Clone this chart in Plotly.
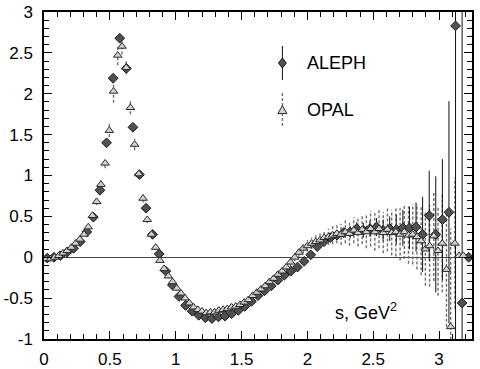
import plotly.graph_objects as go

# ---------------- data ----------------
aleph_s = [0.025, 0.075, 0.125, 0.175, 0.225, 0.275, 0.325, 0.375, 0.425, 0.475,
           0.525, 0.575, 0.625, 0.675, 0.725, 0.775, 0.825, 0.875, 0.925, 0.975,
           1.025, 1.075, 1.125, 1.175, 1.225, 1.275, 1.325, 1.375, 1.425, 1.475,
           1.525, 1.575, 1.625, 1.675, 1.725, 1.775, 1.825, 1.875, 1.925, 1.975,
           2.025, 2.075, 2.125, 2.175, 2.225, 2.275, 2.325, 2.375, 2.425, 2.475,
           2.525, 2.575, 2.625, 2.675, 2.725, 2.775, 2.825, 2.875, 2.925, 2.975,
           3.025, 3.075, 3.125, 3.175, 3.225, 3.275]
aleph_v = [-0.01, 0.00, 0.02, 0.06, 0.11, 0.19, 0.31, 0.49, 0.82, 1.40,
           2.19, 2.68, 2.31, 1.59, 1.01, 0.60, 0.28, 0.04, -0.17, -0.34,
           -0.48, -0.59, -0.66, -0.71, -0.74, -0.75, -0.73, -0.72, -0.69, -0.65,
           -0.60, -0.54, -0.47, -0.41, -0.35, -0.28, -0.22, -0.17, -0.12, -0.05,
           0.03, 0.13, 0.19, 0.24, 0.27, 0.30, 0.31, 0.35, 0.33, 0.35,
           0.37, 0.33, 0.35, 0.34, 0.36, 0.36, 0.37, 0.28, 0.51, 0.28,
           0.46, 0.55, 2.83, -0.56, 0.00, 0.00]
aleph_e = [0.005, 0.005, 0.01, 0.01, 0.01, 0.01, 0.02, 0.02, 0.03, 0.04,
           0.05, 0.05, 0.05, 0.04, 0.03, 0.03, 0.02, 0.02, 0.02, 0.02,
           0.02, 0.02, 0.02, 0.02, 0.02, 0.02, 0.02, 0.02, 0.02, 0.02,
           0.02, 0.02, 0.02, 0.02, 0.03, 0.03, 0.03, 0.03, 0.03, 0.04,
           0.04, 0.04, 0.05, 0.05, 0.05, 0.06, 0.07, 0.08, 0.09, 0.10,
           0.11, 0.13, 0.15, 0.18, 0.22, 0.26, 0.30, 0.46, 0.55, 0.71,
           0.74, 1.36, 5.0, 5.0, 0.0, 0.0]

opal_s = [0.016, 0.048, 0.080, 0.112, 0.144, 0.176, 0.208, 0.240, 0.272, 0.304,
          0.336, 0.368, 0.400, 0.432, 0.464, 0.496, 0.528, 0.560, 0.592, 0.624,
          0.656, 0.688, 0.720, 0.752, 0.784, 0.816, 0.848, 0.880, 0.912, 0.944,
          0.976, 1.008, 1.040, 1.072, 1.104, 1.136, 1.168, 1.200, 1.232, 1.264,
          1.296, 1.328, 1.360, 1.392, 1.424, 1.456, 1.488, 1.520, 1.552, 1.584,
          1.616, 1.648, 1.680, 1.712, 1.744, 1.776, 1.808, 1.840, 1.872, 1.904,
          1.936, 1.968, 2.000, 2.032, 2.064, 2.096, 2.128, 2.160, 2.192, 2.224,
          2.256, 2.288, 2.320, 2.352, 2.384, 2.416, 2.448, 2.480, 2.512, 2.544,
          2.576, 2.608, 2.640, 2.672, 2.704, 2.736, 2.768, 2.800, 2.832, 2.864,
          2.896, 2.928, 2.960, 2.992, 3.024, 3.056, 3.088, 3.120, 3.152, 3.184]
opal_v = [-0.02, -0.02, 0.00, 0.02, 0.05, 0.08, 0.12, 0.17, 0.22, 0.28,
          0.37, 0.51, 0.68, 0.89, 1.15, 1.55, 2.03, 2.47, 2.58, 2.32,
          1.83, 1.38, 1.02, 0.72, 0.46, 0.28, 0.12, -0.04, -0.14, -0.23,
          -0.30, -0.38, -0.44, -0.50, -0.56, -0.61, -0.64, -0.66, -0.68, -0.67,
          -0.67, -0.65, -0.64, -0.63, -0.61, -0.60, -0.58, -0.55, -0.52, -0.47,
          -0.43, -0.39, -0.35, -0.30, -0.26, -0.21, -0.17, -0.12, -0.06, 0.00,
          0.06, 0.11, 0.14, 0.17, 0.19, 0.21, 0.24, 0.25, 0.27, 0.29,
          0.28, 0.31, 0.29, 0.33, 0.30, 0.34, 0.31, 0.35, 0.31, 0.35,
          0.30, 0.34, 0.30, 0.31, 0.28, 0.31, 0.27, 0.28, 0.25, 0.20,
          0.10, 0.14, 0.26, 0.08, 0.17, -0.15, -0.85, 0.17, 0.02, 0.02]
opal_e = [0.01, 0.01, 0.01, 0.01, 0.01, 0.01, 0.01, 0.02, 0.02, 0.02,
          0.03, 0.03, 0.04, 0.05, 0.06, 0.08, 0.14, 0.12, 0.10, 0.08,
          0.08, 0.07, 0.06, 0.05, 0.04, 0.04, 0.03, 0.03, 0.03, 0.03,
          0.03, 0.03, 0.03, 0.03, 0.03, 0.03, 0.03, 0.03, 0.03, 0.03,
          0.03, 0.03, 0.03, 0.03, 0.03, 0.03, 0.03, 0.03, 0.03, 0.03,
          0.03, 0.03, 0.04, 0.04, 0.04, 0.04, 0.04, 0.05, 0.05, 0.05,
          0.06, 0.06, 0.07, 0.07, 0.08, 0.08, 0.09, 0.10, 0.11, 0.12,
          0.13, 0.14, 0.15, 0.16, 0.17, 0.18, 0.20, 0.22, 0.23, 0.24,
          0.25, 0.27, 0.28, 0.30, 0.32, 0.33, 0.35, 0.37, 0.40, 0.42,
          0.45, 0.50, 0.55, 0.55, 0.60, 0.70, 1.20, 0.80, 0.0, 0.0]

x_ticks = [0, 0.5, 1, 1.5, 2, 2.5, 3]
x_tick_text = ["0", "0.5", "1", "1.5", "2", "2.5", "3"]
y_ticks = [-1, -0.5, 0, 0.5, 1, 1.5, 2, 2.5, 3]
y_tick_text = ["-1", "-0.5", "0", "0.5", "1", "1.5", "2", "2.5", "3"]

FONT = "Liberation Sans, Arial, Helvetica, sans-serif"

# dashed OPAL error bars built from the data
ex, ey = [], []
for s, v, e in zip(opal_s, opal_v, opal_e):
    if e > 0:
        ex += [s, s, None]
        ey += [v - e, v + e, None]

fig = go.Figure()
fig.add_trace(go.Scatter(x=ex, y=ey, mode="lines",
                         line=dict(color="#6e6e6e", width=1.4, dash="3px,2px"),
                         hoverinfo="skip", showlegend=False))
fig.add_trace(go.Scatter(
    x=aleph_s, y=aleph_v, mode="markers", name="ALEPH",
    marker=dict(symbol="diamond", size=7.5, color="#505050",
                line=dict(color="#1a1a1a", width=1)),
    error_y=dict(type="data", array=aleph_e, visible=True,
                 color="#111111", thickness=1, width=0),
    showlegend=False))
fig.add_trace(go.Scatter(
    x=opal_s, y=opal_v, mode="markers", name="OPAL",
    marker=dict(symbol="triangle-up", size=7.5, color="#d2d2d2",
                line=dict(color="#2a2a2a", width=1)),
    showlegend=False))

# ---- legend drawn by hand (paper / pixel coordinates) ----
lx = 0.557
fig.add_shape(type="line", xref="paper", yref="paper", x0=lx, x1=lx, y0=0.792, y1=0.896,
              line=dict(color="#111111", width=1))
fig.add_shape(type="path", xref="paper", yref="paper", xsizemode="pixel", ysizemode="pixel",
              xanchor=lx, yanchor=0.844, path="M 0 5 L 4 0 L 0 -5 L -4 0 Z",
              fillcolor="#505050", line=dict(color="#1a1a1a", width=1))
fig.add_shape(type="line", xref="paper", yref="paper", x0=lx, x1=lx, y0=0.651, y1=0.752,
              line=dict(color="#6e6e6e", width=1.4, dash="3px,2px"))
fig.add_shape(type="path", xref="paper", yref="paper", xsizemode="pixel", ysizemode="pixel",
              xanchor=lx, yanchor=0.700, path="M -4.5 -3.5 L 4.5 -3.5 L 0 4.5 Z",
              fillcolor="#d2d2d2", line=dict(color="#2a2a2a", width=1))
fig.add_annotation(xref="paper", yref="paper", x=0.610, y=0.844, text="ALEPH",
                   showarrow=False, xanchor="left", yanchor="middle",
                   font=dict(family=FONT, size=18, color="black"))
fig.add_annotation(xref="paper", yref="paper", x=0.610, y=0.700, text="OPAL",
                   showarrow=False, xanchor="left", yanchor="middle",
                   font=dict(family=FONT, size=18, color="black"))
fig.add_annotation(xref="paper", yref="paper", x=0.675, y=0.083, text="s, GeV<sup>2</sup>",
                   showarrow=False, xanchor="left", yanchor="middle",
                   font=dict(family=FONT, size=18, color="black"))

axis_common = dict(showline=True, linecolor="black", linewidth=1.5, mirror="allticks",
                   ticks="inside", ticklen=8, tickwidth=1, tickcolor="black",
                   showgrid=False, automargin=False,
                   tickfont=dict(family=FONT, size=17, color="black"))
fig.update_xaxes(range=[0, 3.25], tickmode="array", tickvals=x_ticks, ticktext=x_tick_text,
                 minor=dict(ticks="inside", dtick=0.1, tick0=0, ticklen=5, tickcolor="black",
                            showgrid=False),
                 zeroline=False, ticklabelstandoff=4, **axis_common)
fig.update_yaxes(range=[-1, 3], tickmode="array", tickvals=y_ticks, ticktext=y_tick_text,
                 minor=dict(ticks="inside", dtick=0.1, tick0=0, ticklen=5, tickcolor="black",
                            showgrid=False),
                 zeroline=True, zerolinecolor="#444444", zerolinewidth=1,
                 ticklabelstandoff=6, **axis_common)

fig.update_layout(width=480, height=369, margin=dict(l=44, r=8, t=12, b=30),
                  paper_bgcolor="white", plot_bgcolor="white", showlegend=False,
                  font=dict(family=FONT))

fig.write_html("out.html", config={"displayModeBar": False},
               post_script="document.body.style.margin='0';document.body.style.overflow='hidden';")
